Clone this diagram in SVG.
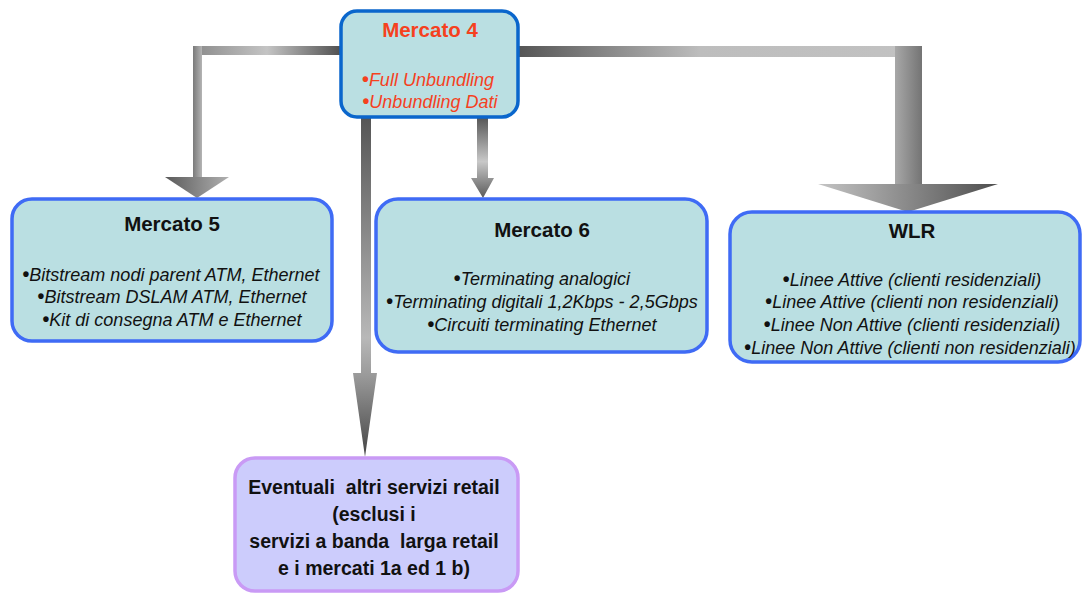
<svg xmlns="http://www.w3.org/2000/svg" width="1082" height="595" viewBox="0 0 1082 595">
<defs>
<style>
.box{fill:#BADFE2;stroke:#3F6BF5;stroke-width:3.5}
.main{fill:#BADFE2;stroke:#0A66CC;stroke-width:3.5}
.ret{fill:#CCCCFC;stroke:#C99AF5;stroke-width:3.5}
.t{font-family:"Liberation Sans",Arial,sans-serif;font-weight:bold;font-size:20.5px;text-anchor:middle;fill:#111}
.i{font-family:"Liberation Sans",Arial,sans-serif;font-style:italic;font-size:18px;text-anchor:middle;fill:#111}
.red{fill:#F5411E}
.d{font-style:normal;font-weight:bold;font-size:19.5px}
.b{font-family:"Liberation Sans",Arial,sans-serif;font-weight:bold;font-size:19.5px;text-anchor:middle;fill:#111}
</style>
<linearGradient id="gLH" gradientUnits="userSpaceOnUse" x1="193" y1="0" x2="341" y2="0"><stop offset="0" stop-color="#8a8a8a"/><stop offset="0.5" stop-color="#c4c4c4"/><stop offset="1" stop-color="#505050"/></linearGradient>
<linearGradient id="gLV" gradientUnits="userSpaceOnUse" x1="193" y1="0" x2="202" y2="0"><stop offset="0" stop-color="#7a7a7a"/><stop offset="1" stop-color="#b4b4b4"/></linearGradient>
<linearGradient id="gLA" gradientUnits="userSpaceOnUse" x1="165" y1="0" x2="229" y2="0"><stop offset="0" stop-color="#5a5a5a"/><stop offset="1" stop-color="#b0b0b0"/></linearGradient>
<linearGradient id="gRH" gradientUnits="userSpaceOnUse" x1="519" y1="0" x2="922" y2="0"><stop offset="0" stop-color="#555"/><stop offset="0.45" stop-color="#bdbdbd"/><stop offset="1" stop-color="#c2c2c2"/></linearGradient>
<linearGradient id="gRV" gradientUnits="userSpaceOnUse" x1="895" y1="0" x2="922" y2="0"><stop offset="0" stop-color="#a8a8a8"/><stop offset="1" stop-color="#747474"/></linearGradient>
<linearGradient id="gRA" gradientUnits="userSpaceOnUse" x1="818" y1="0" x2="998" y2="0"><stop offset="0" stop-color="#c4c4c4"/><stop offset="1" stop-color="#4e4e4e"/></linearGradient>
<linearGradient id="g6" gradientUnits="userSpaceOnUse" x1="0" y1="117" x2="0" y2="198"><stop offset="0" stop-color="#555"/><stop offset="0.55" stop-color="#c8c8c8"/><stop offset="1" stop-color="#5a5a5a"/></linearGradient>
<linearGradient id="gLong" gradientUnits="userSpaceOnUse" x1="0" y1="117" x2="0" y2="457"><stop offset="0" stop-color="#555"/><stop offset="0.65" stop-color="#b8b8b8"/><stop offset="0.76" stop-color="#9a9a9a"/><stop offset="1" stop-color="#444"/></linearGradient>
</defs>

<g id="connectors">
<rect x="193" y="46" width="148" height="9" fill="url(#gLH)"/>
<rect x="193" y="46" width="9" height="131" fill="url(#gLV)"/>
<polygon points="165,177 229,177 197,198" fill="url(#gLA)"/>
<rect x="519" y="46" width="403" height="11" fill="url(#gRH)"/>
<rect x="895" y="46" width="27" height="138" fill="url(#gRV)"/>
<polygon points="818,184 998,184 908,212" fill="url(#gRA)"/>
<path d="M477,117 H488 V178 H494 L483,198 L471,178 H477 Z" fill="url(#g6)"/>
<path d="M361,117 H371 V373 H377 L365,457 L353,373 H361 Z" fill="url(#gLong)"/>
</g>

<g id="mercato4">
<rect class="main" x="341" y="11" width="177" height="106" rx="16"/>
<text class="t red" x="430" y="37">Mercato 4</text>
<text class="i red" x="428" y="86"><tspan class="d">•</tspan>Full Unbundling</text>
<text class="i red" x="430" y="108"><tspan class="d">•</tspan>Unbundling Dati</text>
</g>

<g id="mercato5">
<rect class="box" x="12" y="199" width="320" height="142" rx="20"/>
<text class="t" x="172" y="231">Mercato 5</text>
<text class="i" x="171" y="281"><tspan class="d">•</tspan>Bitstream nodi parent ATM, Ethernet</text>
<text class="i" x="172" y="303"><tspan class="d">•</tspan>Bitstream DSLAM ATM, Ethernet</text>
<text class="i" x="172" y="326"><tspan class="d">•</tspan>Kit di consegna ATM e Ethernet</text>
</g>

<g id="mercato6">
<rect class="box" x="376" y="199" width="331" height="153" rx="22"/>
<text class="t" x="542" y="237">Mercato 6</text>
<text class="i" x="542" y="285"><tspan class="d">•</tspan>Terminating analogici</text>
<text class="i" x="542" y="308"><tspan class="d">•</tspan>Terminating digitali 1,2Kbps - 2,5Gbps</text>
<text class="i" x="542" y="331"><tspan class="d">•</tspan>Circuiti terminating Ethernet</text>
</g>

<g id="wlr">
<rect class="box" x="730" y="212" width="350" height="150" rx="22"/>
<text class="t" x="912" y="238">WLR</text>
<text class="i" x="912" y="286"><tspan class="d">•</tspan>Linee Attive (clienti residenziali)</text>
<text class="i" x="912" y="308"><tspan class="d">•</tspan>Linee Attive (clienti non residenziali)</text>
<text class="i" x="912" y="331"><tspan class="d">•</tspan>Linee Non Attive (clienti residenziali)</text>
<text class="i" x="910" y="354"><tspan class="d">•</tspan>Linee Non Attive (clienti non residenziali)</text>
</g>

<g id="altri">
<rect class="ret" x="235" y="458" width="283" height="133" rx="20"/>
<text class="b" x="374" y="494" xml:space="preserve">Eventuali  altri servizi retail</text>
<text class="b" x="374" y="521">(esclusi i</text>
<text class="b" x="374" y="548" xml:space="preserve">servizi a banda  larga retail</text>
<text class="b" x="374" y="575">e i mercati 1a ed 1 b)</text>
</g>
</svg>
